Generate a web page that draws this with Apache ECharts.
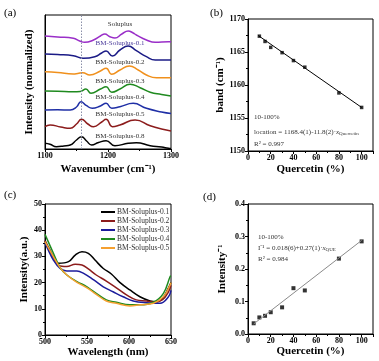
<!DOCTYPE html>
<html><head><meta charset="utf-8">
<script src="https://cdn.jsdelivr.net/npm/echarts@6/dist/echarts.min.js"></script>
<style>html,body{margin:0;padding:0;background:#fff}#c{width:379px;height:361px}</style>
</head><body><div id="c"></div>
<script>
// ---------- Panel (a): FTIR spectra (offset, arbitrary units) ----------
const ftirNames = ['Soluplus','BM-Soluplus-0.1','BM-Soluplus-0.2','BM-Soluplus-0.3','BM-Soluplus-0.4','BM-Soluplus-0.5','BM-Soluplus-0.8'];
const ftirColors = ['#9a2fc8','#1b1b86','#f0901c','#1f8a1f','#1f2fa6','#8c1c1c','#000000'];
const ftirSoluplus = [[1100,113],[1120,112],[1145,110.7],[1155,108],[1163,106.7],[1177,109],[1188,113],[1195,115],[1203,112.3],[1211,111],[1222,115],[1232,118],[1240,116],[1245,114],[1261,109],[1275,106.7],[1296,107.3],[1300,107.3]];
const ftir01 = [[1100,95],[1120,94.5],[1145,93.3],[1161,90.7],[1179,92.3],[1190,96],[1197,98],[1207,93],[1219,99],[1232,103],[1245,98.3],[1261,92.3],[1275,89],[1300,89]];
const ftir02 = [[1100,77.3],[1120,76.5],[1145,75],[1152,75.5],[1160,76.3],[1171,74],[1188,78],[1197,80.7],[1206,74.7],[1219,79],[1234,83],[1248,79],[1261,74],[1277,71.3],[1300,71.3]];
const ftir03 = [[1100,58],[1120,57.8],[1145,57.3],[1156,57.5],[1165,60],[1173,55.7],[1188,60],[1197,62.3],[1206,56.7],[1219,60],[1235,64.7],[1251,61.3],[1267,56.7],[1285,54.5],[1300,53]];
const ftir04 = [[1100,39],[1120,39.2],[1140,39],[1150,42],[1157,47.3],[1166,43.3],[1175,40.7],[1188,43],[1197,45.7],[1206,40.7],[1219,42.3],[1240,45.7],[1261,40.7],[1285,37],[1300,35.5]];
const ftir05 = [[1100,22.3],[1108,24],[1125,22],[1140,20.7],[1150,25],[1158,29.7],[1168,25],[1177,22.3],[1190,27],[1197,29.7],[1207,22.3],[1219,24],[1243,29],[1267,23.3],[1285,20],[1300,18]];
const ftir08 = [[1100,5.7],[1108,4.7],[1118,2.3],[1130,3],[1140,4],[1150,9],[1158,12.3],[1166,8],[1174,4],[1185,6.5],[1197,8.3],[1211,3.3],[1232,5.7],[1245,6.3],[1267,3.3],[1285,2],[1296,0.7],[1300,0.5]];
const ftirData = [ftirSoluplus, ftir01, ftir02, ftir03, ftir04, ftir05, ftir08];
const ftirMarker = 1158;

// ---------- Panel (b): band location vs quercetin ----------
const bandQ = [10,15,20,30,40,50,80,100];
const bandPos = [1167.4,1166.6,1165.7,1164.9,1163.7,1162.7,1158.8,1156.6];
const bandFitQ = [9,100];
const bandFitPos = [1167.5,1156.6];

// ---------- Panel (c): fluorescence spectra ----------
const flNames = ['BM-Soluplus-0.1','BM-Soluplus-0.2','BM-Soluplus-0.3','BM-Soluplus-0.4','BM-Soluplus-0.5'];
const flColors = ['#000000','#8c1c1c','#1c1c9c','#1f8a1f','#f5a030'];
const fl01 = [[500,36],[505,33],[510,30],[516,27.4],[528,28],[536,30.5],[544,31.8],[551.6,31.2],[559.5,28.6],[569.4,25.4],[579,23.3],[589,20.1],[601,17.2],[613,14.6],[625,13],[633,12.7],[640,14],[647,18],[650,20]];
const fl02 = [[500,36],[505,32.5],[510,29.5],[516,26.7],[526,26.1],[536,27],[544,26.7],[551.6,25.2],[561,22.9],[573,20.6],[585,18],[597,15.3],[608.7,13.4],[620.6,13],[630.6,12.5],[640,13.5],[647,16.5],[650,19]];
const fl03 = [[500,35],[502,33.7],[510,28.6],[518,25.4],[526,24.4],[538,24.4],[546,23.5],[558,21],[569.4,18.4],[581,16.5],[593,14.6],[605,13],[621,12.3],[637,12.1],[647,14.6],[650,17]];
const fl04 = [[500,38.4],[510,31.2],[518,25.7],[526,22.9],[538,20.4],[550,18.4],[561,15.9],[573,13.4],[585,12.5],[601,11.5],[613,11.5],[629,12.5],[641,15.9],[649,22.3],[650,22.5]];
const fl05 = [[500,35.6],[510,29.9],[518,25.7],[526,22.9],[538,20.1],[550,18],[561,15.5],[573,13],[585,12.1],[601,11.1],[613,11.5],[629,12.1],[641,14.6],[649,19.1],[650,20]];
const flData = [fl01, fl02, fl03, fl04, fl05];

// ---------- Panel (d): inverse intensity vs quercetin ----------
const invQ = [5,10,15,20,30,40,50,80,100];
const invI = [0.033,0.051,0.056,0.067,0.082,0.141,0.134,0.232,0.285];
const invFitQ = [5,100];
const invFitI = [0.031,0.288];

const SERIF = "'Liberation Serif','Times New Roman',serif";
const chart = echarts.init(document.getElementById('c'), null, {renderer:'canvas'});

function lbl(fmt){
  return {fontFamily:SERIF,fontWeight:'bold',fontSize:8,color:'#000',margin:3,formatter:fmt||(v=>String(v))};
}
function axisBase(extra){
  return Object.assign({
    type:'value',
    axisLine:{show:true,lineStyle:{color:'#000',width:1}},
    axisTick:{show:true,length:3,lineStyle:{color:'#000'}},
    minorTick:{show:true,splitNumber:2,length:2,lineStyle:{color:'#000'}},
    splitLine:{show:false},
    axisLabel:lbl(),
    nameLocation:'middle',
    nameTextStyle:{fontFamily:SERIF,fontWeight:'bold',fontSize:11,color:'#000'}
  }, extra);
}

const grids = [
  {left:45, top:15, width:126, height:134},
  {left:248, top:19, width:125, height:132},
  {left:45, top:204, width:126, height:131},
  {left:248, top:204, width:125, height:130}
].map(g => Object.assign(g, {show:true, borderColor:'#000', borderWidth:1, backgroundColor:'transparent'}));

const xAxes = [
  axisBase({gridIndex:0,min:1100,max:1300,interval:100,name:'Wavenumber (cm⁻¹)',nameGap:15}),
  axisBase({gridIndex:1,min:0,max:110,interval:20,name:'Quercetin (%)',nameGap:13,axisLabel:lbl(v=>v%20===0?String(v):'')}),
  axisBase({gridIndex:2,min:500,max:650,interval:50,name:'Wavelength (nm)',nameGap:12}),
  axisBase({gridIndex:3,min:0,max:110,interval:20,name:'Quercetin (%)',nameGap:11,axisLabel:lbl(v=>v%20===0?String(v):'')})
];
const yAxes = [
  axisBase({gridIndex:0,min:0,max:134,axisTick:{show:false},minorTick:{show:false},axisLabel:{show:false},name:'Intensity (normalized)',nameGap:10}),
  axisBase({gridIndex:1,min:1150,max:1170,interval:5,name:'band (cm⁻¹)',nameGap:21}),
  axisBase({gridIndex:2,min:0,max:50,interval:10,name:'Intensity(a.u.)',nameGap:12}),
  axisBase({gridIndex:3,min:0,max:0.4,interval:0.1,name:'Intensity⁻¹',nameGap:20,axisLabel:lbl(v=>v.toFixed(1))})
];

const series = [];
ftirData.forEach((d,i)=>{
  const s = {type:'line',name:'FTIR '+ftirNames[i],xAxisIndex:0,yAxisIndex:0,data:d,smooth:0.5,showSymbol:false,
    lineStyle:{color:ftirColors[i],width:1.5},itemStyle:{color:ftirColors[i]},silent:true};
  if(i===0){
    s.markLine = {silent:true,symbol:['none','none'],label:{show:false},
      lineStyle:{color:'#8a8fa8',type:[1.5,1.5],width:1},data:[{xAxis:ftirMarker}]};
  }
  series.push(s);
});
series.push({type:'line',name:'bandFit',xAxisIndex:1,yAxisIndex:1,data:bandFitQ.map((q,i)=>[q,bandFitPos[i]]),
  showSymbol:false,lineStyle:{color:'#000',width:1},silent:true});
series.push({type:'scatter',name:'band',xAxisIndex:1,yAxisIndex:1,data:bandQ.map((q,i)=>[q,bandPos[i]]),
  symbol:'rect',symbolSize:3.5,itemStyle:{color:'#000'}});
flData.forEach((d,i)=>{
  series.push({type:'line',name:flNames[i],xAxisIndex:2,yAxisIndex:2,data:d,smooth:0.4,showSymbol:false,
    lineStyle:{color:flColors[i],width:1.5},itemStyle:{color:flColors[i]},silent:true});
});
series.push({type:'line',name:'invFit',xAxisIndex:3,yAxisIndex:3,data:invFitQ.map((q,i)=>[q,invFitI[i]]),
  showSymbol:false,lineStyle:{color:'#8a8a8a',width:1},silent:true});
series.push({type:'scatter',name:'inv',xAxisIndex:3,yAxisIndex:3,data:invQ.map((q,i)=>[q,invI[i]]),
  symbol:'rect',symbolSize:4,itemStyle:{color:'#000'}});

function txt(x,y,text,opt){
  return {type:'text',x:x,y:y,style:Object.assign({text:text,fontFamily:SERIF,fontSize:7,fill:'#333',align:'left',verticalAlign:'middle'},opt||{})};
}
const graphics = [
  txt(4,13,'(a)',{fontSize:11,fill:'#000'}),
  txt(210,13,'(b)',{fontSize:11,fill:'#000'}),
  txt(4,195,'(c)',{fontSize:11,fill:'#000'}),
  txt(203,197,'(d)',{fontSize:11,fill:'#000'}),
  txt(120,24.5,'Soluplus',{align:'center'}),
  txt(120,43,'BM-Soluplus-0.1',{align:'center',fill:'#4a3a9a'}),
  txt(120,62.5,'BM-Soluplus-0.2',{align:'center'}),
  txt(120,81,'BM-Soluplus-0.3',{align:'center'}),
  txt(120,97.5,'BM-Soluplus-0.4',{align:'center'}),
  txt(120,114.5,'BM-Soluplus-0.5',{align:'center'}),
  txt(120,136,'BM-Soluplus-0.8',{align:'center'}),
  txt(254,117.5,'10-100%'),
  {type:'text',x:254,y:131.7,style:{text:'location = 1168.4(1)-11.8(2)·{i|x}{sub|Quercetin}',fontFamily:SERIF,fontSize:7,fill:'#333',verticalAlign:'middle',
    rich:{i:{fontFamily:SERIF,fontSize:7,fontStyle:'italic',fill:'#333'},sub:{fontFamily:SERIF,fontSize:5,fill:'#333',padding:[3,0,0,0]}}}},
  txt(254,144,'R² = 0.997'),
  txt(258,236.7,'10-100%'),
  {type:'text',x:258,y:247.7,style:{text:'I⁻¹ = 0.018(6)+0.27(1)·{i|x}{sub|QUE}',fontFamily:SERIF,fontSize:7,fill:'#333',verticalAlign:'middle',
    rich:{i:{fontFamily:SERIF,fontSize:7,fontStyle:'italic',fill:'#333'},sub:{fontFamily:SERIF,fontSize:5,fill:'#333',padding:[3,0,0,0]}}}},
  txt(258,259.3,'R² = 0.984')
];

chart.setOption({
  animation:false,
  backgroundColor:'#fff',
  grid:grids,
  xAxis:xAxes,
  yAxis:yAxes,
  legend:{data:flNames,orient:'vertical',left:101,top:208,icon:'rect',itemWidth:14,itemHeight:2,itemGap:1,
    padding:0,textStyle:{fontFamily:SERIF,fontSize:7.5,color:'#333',lineHeight:7.4,padding:[0,0,0,-3]},selectedMode:false},
  series:series,
  graphic:graphics
});
</script></body></html>
